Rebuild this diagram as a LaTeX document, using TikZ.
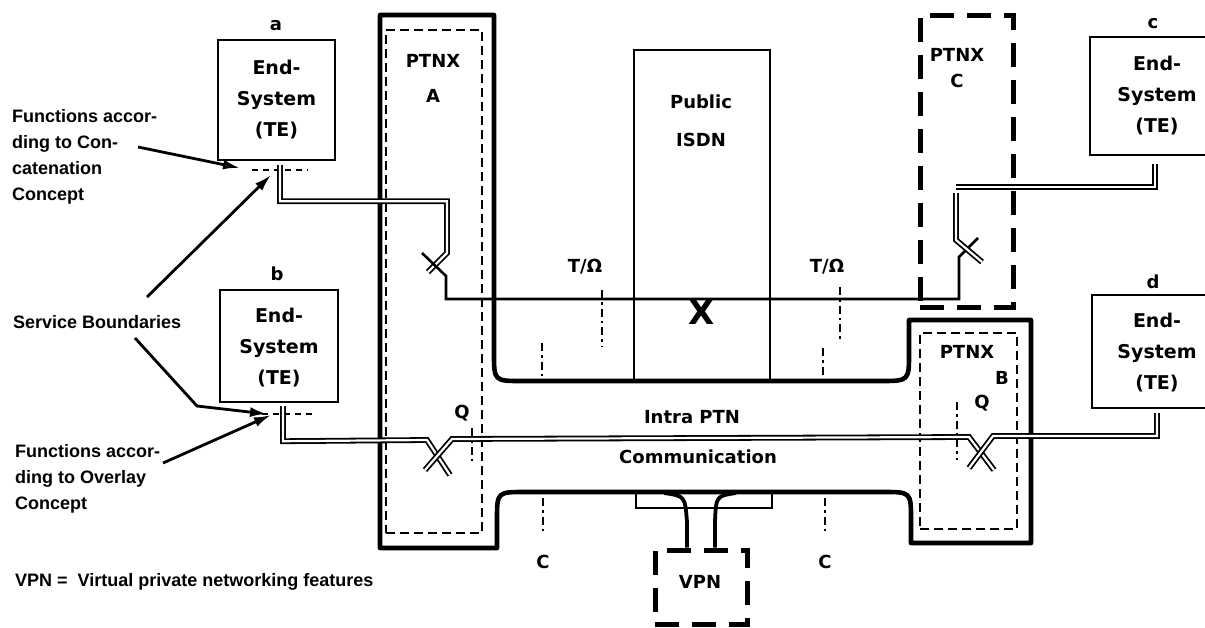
\documentclass[tikz,border=0pt]{standalone}
\usepackage{fontspec}
\setsansfont{Liberation Sans}
\newfontfamily\boxfont{DejaVu Sans}
\usetikzlibrary{positioning,arrows.meta,calc}

\begin{document}
\begin{tikzpicture}[x=1pt, y=-1pt,
  lbl/.style={font=\boxfont\bfseries\fontsize{18}{31}\selectfont, align=center, inner sep=0pt},
  notes/.style={font=\sffamily\bfseries\fontsize{18}{26}\selectfont, align=left, inner sep=0pt},
  esys/.style={draw, line width=2.4pt, inner sep=0pt, lbl, font=\boxfont\bfseries\fontsize{19}{31}\selectfont},
  ptnx/.style={draw, line width=2.2pt, dash pattern=on 9pt off 5pt, inner sep=0pt},
  bigdash/.style={draw, line width=5pt, dash pattern=on 24pt off 13pt, inner sep=0pt},
  ptn/.style={line width=4.6pt, line join=round},
  dbl/.style={draw=black, double=white, double distance=2.2pt, line width=1.8pt},
  sgl/.style={line width=2.6pt},
  refpt/.style={line width=2.4pt, dash pattern=on 8pt off 4pt on 2.5pt off 4pt},
  bnd/.style={line width=2pt, dash pattern=on 6pt off 5pt},
  pointer/.style={line width=2.8pt, -{Latex[length=17pt,width=10pt]}}]
  \fill[white] (0,0) rectangle (1205,627);
  \useasboundingbox (0,0) rectangle (1205,627);

  % private network outline (PTNX A -- channel -- PTNX B)
  \draw[ptn] (380,15) -- (494,15) -- (494,353) .. controls (494,381) .. (522,381)
    -- (880,381) .. controls (909,381) .. (909,353) -- (909,320) -- (1031,320)
    -- (1031,543) -- (911,543) -- (911,520) .. controls (911,492) .. (883,492)
    -- (525,492) .. controls (497,492) .. (497,520) -- (497,548) -- (380,548) -- cycle;

  % exchanges and public network
  \node[esys, minimum width=136pt, minimum height=331pt, line width=2.6pt] (isdn) at (702,215.5) {};
  \node[lbl] (isdnTxt) at (701,121) {Public\\[7pt]ISDN};
  \node[ptnx, minimum width=96pt, minimum height=503pt] (ptnxA) at (434,281.5) {};
  \node[lbl] (ptnxATxt) at (433,78) {PTNX\\[4pt]A};
  \node[bigdash, minimum width=93pt, minimum height=292pt] (ptnxC) at (966.5,161) {};
  \node[lbl] (ptnxCTxt) at (957,68) {PTNX\\[-5pt]C};
  \node[ptnx, minimum width=97pt, minimum height=196pt] (ptnxB) at (968.5,431) {};
  \node[lbl] (ptnxBTxt) at (967,352) {PTNX};
  \node[lbl] (ptnxBLet) at (1002,378) {B};
  \node[bigdash, minimum width=92pt, minimum height=74pt] (vpn) at (701,587) {};
  \node[lbl] (vpnTxt) at (700,582) {VPN};

  % end systems
  \node[esys, minimum width=117pt, minimum height=120pt] (esA) at (276.5,100) {End-\\System\\(TE)};
  \node[esys, minimum width=118pt, minimum height=112pt, text depth=-6pt] (esB) at (279,346) {End-\\System\\(TE)};
  \node[esys, minimum width=134pt, minimum height=118pt] (esC) at (1157,96) {End-\\System\\(TE)};
  \node[esys, minimum width=130pt, minimum height=113pt, text depth=-6pt] (esD) at (1157,351.5) {End-\\System\\(TE)};
  \node[lbl] (letA) at (276,26) {a};
  \node[lbl] (letB) at (277,274) {b};
  \node[lbl] (letC) at (1153,24) {c};
  \node[lbl] (letD) at (1153,282) {d};

  % VPN attachment
  \draw[line width=2pt] (636,492) rectangle (772,508);
  \draw[line width=3.8pt] (664,493) .. controls (685,496) .. (687,522) -- ([xshift=-14pt]vpn.north);
  \draw[line width=3.8pt] (736,493) .. controls (716,496) .. (715,522) -- ([xshift=14pt]vpn.north);

  % reference points
  \draw[refpt] (602,290) -- (602,347);
  \draw[refpt] (840,287) -- (840,342);
  \draw[refpt] (542,343) -- (542,377);
  \draw[refpt] (823,348) -- (823,377);
  \draw[refpt] (543,498) -- (543,533);
  \draw[refpt] (825,498) -- (825,533);
  \draw[refpt] (472,428) -- (472,463);
  \draw[refpt] (957,402) -- (957,460);
  \node[lbl] (tqL) at (585,267) {T/Ω};
  \node[lbl] (tqR) at (827,267) {T/Ω};
  \node[lbl] (cL) at (543,562) {C};
  \node[lbl] (cR) at (825,562) {C};
  \node[lbl] (qA) at (462,413) {Q};
  \node[lbl] (qB) at (982,403) {Q};
  \node[lbl] (chTop) at (692,417) {Intra PTN};
  \node[lbl] (chBot) at (698,457) {Communication};
  \node[font=\boxfont\bfseries\fontsize{34}{34}\selectfont, inner sep=0pt] (sw) at (702,312) {X};

  % service boundaries
  \draw[bnd] (252,170) -- (308,170);
  \draw[bnd] (262,414) -- (312,414);

  % concatenation: a -> PTNX A -> public ISDN -> PTNX C -> c
  \coordinate (kA) at (447,253);
  \coordinate (kC) at (956,240);
  \draw[dbl] ([xshift=3.5pt,yshift=-4pt]esA.south) -- ++(0,36) -| (kA) -- ++(-19,19);
  \draw[sgl] (kA) ++(-25,0) -- ++(24,23) -- ++(0,23) -| ($(kC)+(3,17)$) -- ++(19,-19);
  \draw[dbl] ([xshift=-2pt,yshift=-8pt]esC.south) |- ($(kC)+(0,-53)$);
  \draw[dbl] ($(kC)+(0,-47)$) -- (kC) -- ++(26,22);

  % overlay: b -> PTNX A -> PTNX B -> d
  \coordinate (xA) at (438,456);
  \coordinate (xB) at (981,452);
  \draw[dbl] ([xshift=4pt,yshift=-3pt]esB.south) -- ++(0,35) -- ($(xA)+(-11,-16)$) -- ($(xA)+(12,19)$);
  \draw[dbl] ($(xA)+(-13,14)$) -- ($(xA)+(14,-17)$) -- ($(xB)+(-12,-15)$) -- ($(xB)+(13,18)$);
  \draw[dbl] ($(xB)+(-12,16)$) -- ($(xB)+(12,-16)$) -| ([yshift=-4pt]esD.south);

  % notes
  \node[notes, anchor=north west] (noteConc) at (12,109) {Functions accor-\\ding to Con-\\catenation\\Concept};
  \node[notes, anchor=west] (noteSB) at (13,322) {Service Boundaries};
  \node[notes, anchor=north west] (noteOvl) at (15,444) {Functions accor-\\ding to Overlay\\Concept};
  \node[notes, anchor=west] (noteVPN) at (15,582) {VPN =\ \ Virtual private networking features};
  \coordinate (tailConc) at (138,147);
  \coordinate (tipConc) at (240,168);
  \coordinate (tailSBa) at (147,297);
  \coordinate (tipSBa) at (271,175);
  \coordinate (tailSBb) at (135,338);
  \coordinate (tipSBb) at (267,414);
  \coordinate (tailOvl) at (163,463);
  \coordinate (tipOvl) at (271,415);
  \draw[pointer] (tailConc) -- (tipConc);
  \draw[pointer] (tailSBa) -- (tipSBa);
  \draw[pointer] (tailSBb) -- (197,406) -- (tipSBb);
  \draw[pointer] (tailOvl) -- (tipOvl);
\end{tikzpicture}
\end{document}
